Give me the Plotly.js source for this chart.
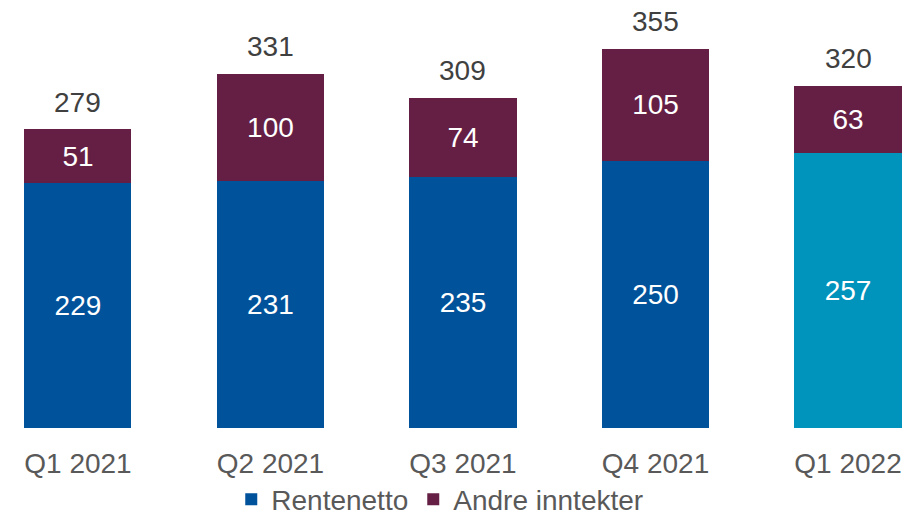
<!DOCTYPE html>
<html><head><meta charset="utf-8">
<script src="https://cdn.plot.ly/plotly-3.0.1.min.js"></script>
<style>html,body{margin:0;padding:0;background:#fff}#chart{width:920px;height:515px}</style>
</head><body><div id="chart"></div>
<script>
const categories = ["Q1 2021", "Q2 2021", "Q3 2021", "Q4 2021", "Q1 2022"];
const rentenetto = [229, 231, 235, 250, 257];
const andreInntekter = [51, 100, 74, 105, 63];
const totals = [279, 331, 309, 355, 320];
const rentenettoColors = ["#00529B", "#00529B", "#00529B", "#00529B", "#0093BC"];
const FONT = "Liberation Sans, Arial, sans-serif";

const traces = [
  {type: "bar", name: "Rentenetto", x: categories, y: rentenetto,
   marker: {color: rentenettoColors}, width: 0.556,
   text: rentenetto.map(String), textposition: "inside", insidetextanchor: "middle",
   textfont: {family: FONT, size: 28, color: "#ffffff"}, hoverinfo: "skip"},
  {type: "bar", name: "Andre inntekter", x: categories, y: andreInntekter,
   marker: {color: "#651F45"}, width: 0.556,
   text: andreInntekter.map(String), textposition: "inside", insidetextanchor: "middle",
   textfont: {family: FONT, size: 28, color: "#ffffff"}, hoverinfo: "skip"}
];

const annotations = categories.map((c, i) => ({
  x: c, y: totals[i], text: String(totals[i]), showarrow: false,
  xref: "x", yref: "y", yanchor: "bottom", yshift: 10,
  font: {family: FONT, size: 28, color: "#404040"}
}));

const layout = {
  width: 920, height: 515,
  margin: {l: 0, r: 0, t: 0, b: 87, autoexpand: false},
  barmode: "stack",
  showlegend: true,
  paper_bgcolor: "#ffffff", plot_bgcolor: "#ffffff",
  font: {family: FONT, color: "#595959"},
  xaxis: {type: "category", range: [-0.405, 4.374], showgrid: false, zeroline: false,
          showline: false, ticks: "", ticklabelstandoff: 16, automargin: false,
          tickfont: {family: FONT, size: 28, color: "#595959"}},
  yaxis: {range: [0, 400.7], visible: false, showgrid: false, zeroline: false, automargin: false},
  legend: {orientation: "h", x: 0.478, xanchor: "center", yref: "container", y: 0.03, yanchor: "middle",
           font: {family: FONT, size: 28, color: "#595959"}, traceorder: "normal",
           itemwidth: 30, bgcolor: "rgba(0,0,0,0)"},
  annotations: annotations
};

Plotly.newPlot("chart", traces, layout, {staticPlot: true, displayModeBar: false});
</script>
</body></html>
